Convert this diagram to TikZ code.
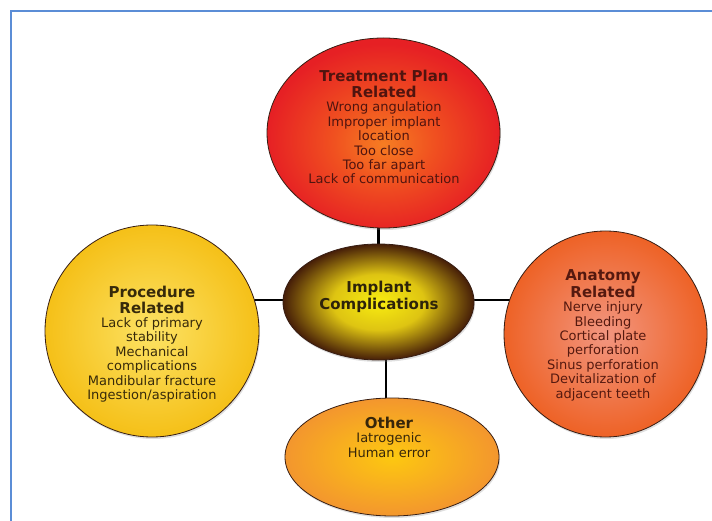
\documentclass[tikz,border=0pt]{standalone}
\usepackage{fontspec}
\setmainfont{DejaVu Sans}
\usetikzlibrary{shapes.geometric,shadows}
\pgfdeclarelayer{bg}
\pgfsetlayers{bg,main}
\definecolor{frameblue}{RGB}{91,141,214}
\definecolor{outl}{RGB}{55,30,20}
\definecolor{topout}{RGB}{230,32,36}
\definecolor{topmid}{RGB}{240,80,32}
\definecolor{topin}{RGB}{246,125,34}
\definecolor{cenout}{RGB}{70,30,8}
\definecolor{cenmid}{RGB}{222,196,18}
\definecolor{cenin}{RGB}{248,236,16}
\definecolor{leftout}{RGB}{245,192,24}
\definecolor{leftin}{RGB}{252,226,100}
\definecolor{rightout}{RGB}{238,98,38}
\definecolor{rightin}{RGB}{242,150,128}
\definecolor{botout}{RGB}{243,150,46}
\definecolor{botin}{RGB}{253,200,16}
\definecolor{toptxt}{RGB}{80,20,15}
\definecolor{centxt}{RGB}{45,35,10}
\definecolor{lefttxt}{RGB}{55,42,10}
\definecolor{righttxt}{RGB}{85,25,15}
\definecolor{bottxt}{RGB}{55,38,10}
\pgfdeclareradialshading{censhade}{\pgfpoint{0bp}{0bp}}{color(0bp)=(cenin); color(12bp)=(cenmid); color(25bp)=(cenout); color(50bp)=(cenout)}
\pgfdeclareradialshading{topshade}{\pgfpoint{0bp}{-3bp}}{color(0bp)=(topin); color(11bp)=(topmid); color(25bp)=(topout); color(50bp)=(topout)}
\newcommand{\ttl}[1]{{\fontsize{15}{16}\selectfont\bfseries #1}}
\begin{document}
\begin{tikzpicture}[x=1pt,y=-1pt,
  bubble/.style={ellipse, draw=outl, line width=0.8pt, inner sep=0pt,
    drop shadow={opacity=0.25, shadow xshift=1pt, shadow yshift=-2pt}},
  lbl/.style={align=center, font=\fontsize{13}{14.4}\selectfont, inner sep=0pt},
  conn/.style={line width=2.6pt, draw=black}]
\useasboundingbox (0,0) rectangle (712,521);
\draw[frameblue, line width=2pt] (11,530) -- (11,11) -- (720,11);

\node[bubble, minimum width=233pt, minimum height=190pt, shade, shading=topshade] (plan) at (383.5,133) {};
\node[bubble, minimum width=191pt, minimum height=116pt, shade, shading=censhade] (cen) at (378.5,302) {};
\node[bubble, minimum width=214pt, minimum height=212pt, inner color=leftin, outer color=leftout] (proc) at (152,331) {};
\node[bubble, minimum width=203pt, minimum height=206pt, inner color=rightin, outer color=rightout] (anat) at (605.5,334) {};
\node[bubble, minimum width=214pt, minimum height=118pt, inner color=botin, outer color=botout] (oth) at (392,457) {};

\coordinate (hl) at (379,300);
\coordinate (vb) at (386,330);
\begin{pgfonlayer}{bg}
\draw[conn] (cen.center) -- (cen.center |- plan.center);
\draw[conn] (hl -| proc.center) -- (hl -| anat.center);
\draw[conn] (vb) -- (vb |- oth.center);
\end{pgfonlayer}

\node[lbl, text=toptxt] (plantxt) at (384,127) {\ttl{Treatment Plan}\\[1.6pt]\ttl{Related}\\Wrong angulation\\Improper implant\\location\\Too close\\Too far apart\\Lack of communication};
\node[lbl, text=centxt] (centxt) at (379,297) {\ttl{Implant}\\[1.6pt]\ttl{Complications}};
\node[lbl, text=lefttxt] (proctxt) at (152,344) {\ttl{Procedure}\\[1.6pt]\ttl{Related}\\Lack of primary\\stability\\Mechanical\\complications\\Mandibular fracture\\Ingestion/aspiration};
\node[lbl, text=righttxt] (anattxt) at (603,335) {\ttl{Anatomy}\\[1.6pt]\ttl{Related}\\Nerve injury\\Bleeding\\Cortical plate\\perforation\\Sinus perforation\\Devitalization of\\adjacent teeth};
\node[lbl, text=bottxt] (othtxt) at (389,437) {\ttl{Other}\\Iatrogenic\\Human error};
\end{tikzpicture}
\end{document}
